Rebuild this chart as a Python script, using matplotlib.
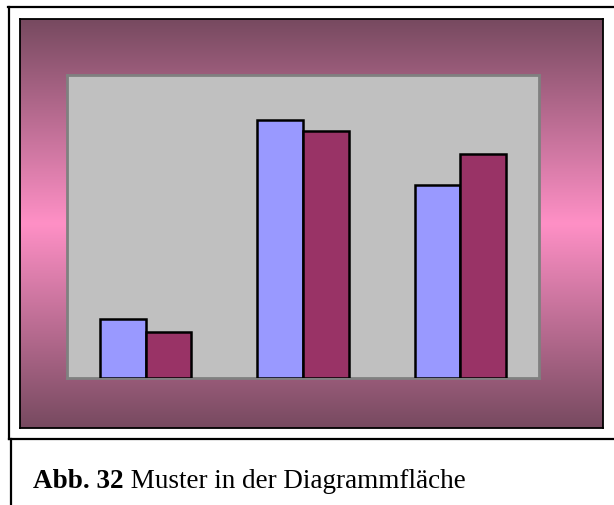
import numpy as np
import matplotlib.pyplot as plt
from matplotlib.colors import LinearSegmentedColormap
from matplotlib.lines import Line2D

# data (axis 0..100)
cats = ['A', 'B', 'C']
s1 = [19.5, 85.1, 63.7]
s2 = [15.2, 81.5, 74.0]
caption_bold = 'Abb. 32'
caption_rest = ' Muster in der Diagrammfläche'

W, H = 614, 506
fig = plt.figure(figsize=(W / 100, H / 100), dpi=100)

def box(x0, y0, x1, y1):
    # pixel box -> figure fraction [left, bottom, width, height]
    return [x0 / W, 1 - y1 / H, (x1 - x0) / W, (y1 - y0) / H]

# frame lines round the picture
ov = fig.add_axes([0, 0, 1, 1])
ov.set_xlim(0, W)
ov.set_ylim(H, 0)
ov.axis('off')
for xs, ys in [((8, 614), (8, 8)), ((9, 9), (8, 440)), ((9, 614), (440, 440)), ((11, 11), (440, 506))]:
    ov.add_line(Line2D(xs, ys, color='black', lw=1.6))

# chart area with vertical gradient
bg = fig.add_axes(box(20, 20, 603, 429))
cmap = LinearSegmentedColormap.from_list('g', ['#774a60', '#ff90c6', '#774a60'])
grad = np.linspace(0, 1, 256).reshape(-1, 1)
bg.imshow(grad, aspect='auto', cmap=cmap, extent=[0, 1, 0, 1])
bg.set_xticks([])
bg.set_yticks([])
for sp in bg.spines.values():
    sp.set_color('black')
    sp.set_linewidth(1.3)

# plot area
ax = fig.add_axes(box(67, 76, 539, 379))
ax.set_facecolor('#c0c0c0')
x = np.arange(len(cats))
w = 0.29
ax.bar(x - w / 2, s1, w, color='#9999ff', edgecolor='black', linewidth=1.8, zorder=3)
ax.bar(x + w / 2, s2, w, color='#993366', edgecolor='black', linewidth=1.8, zorder=3)
ax.set_xlim(-0.5, 2.5)
ax.set_ylim(0, 100)
ax.set_xticks([])
ax.set_yticks([])
for sp in ax.spines.values():
    sp.set_color('#808080')
    sp.set_linewidth(2)

# caption
t = ov.text(33, 488, caption_bold, fontsize=19.5, fontweight='bold',
            family='Liberation Serif', va='baseline', ha='left')
ov.annotate(caption_rest, xy=(1, 0), xycoords=t, va='bottom', ha='left',
            fontsize=19.5, family='Liberation Serif')

fig.savefig('out.png', dpi=100)
